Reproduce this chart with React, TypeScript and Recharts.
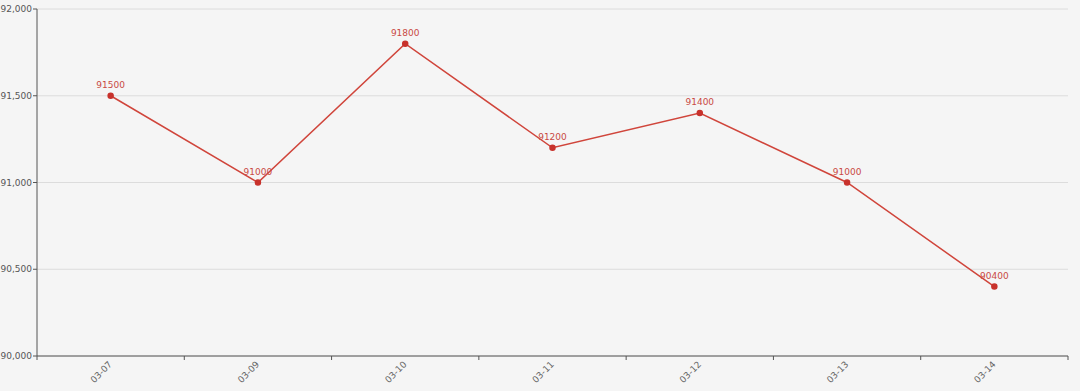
import { CartesianGrid, LabelList, Line, LineChart, XAxis, YAxis } from 'recharts'

const dates = ['03-07', '03-09', '03-10', '03-11', '03-12', '03-13', '03-14']
const prices = [91500, 91000, 91800, 91200, 91400, 91000, 90400]
const yTicks = [90000, 90500, 91000, 91500, 92000]

const chartData = dates.map((d, i) => ({ date: d, price: prices[i] }))

const W = 1080
const H = 391
const LEFT = 37
const RIGHT = 12
const band = (W - LEFT - RIGHT) / dates.length

const lineColor = '#d0453b'
const axisColor = '#555'

function DateTick(props: any) {
  const { x, y, payload, index } = props
  const isLast = index === dates.length - 1
  const tx = x + 2
  return (
    <g>
      <line x1={x - band / 2} y1={y - 8} x2={x - band / 2} y2={y - 4} stroke={axisColor} />
      {isLast && (
        <line x1={x + band / 2} y1={y - 8} x2={x + band / 2} y2={y - 4} stroke={axisColor} />
      )}
      <text
        x={tx}
        y={y + 1}
        textAnchor="end"
        fontSize={9}
        fill="#666"
        transform={`rotate(-45, ${tx}, ${y + 1})`}
      >
        {payload.value}
      </text>
    </g>
  )
}

export default function App() {
  return (
    <div style={{ position: 'absolute', left: 0, top: 0, width: W, height: H, background: '#f5f5f5', fontFamily: 'DejaVu Sans, sans-serif' }}>
      <LineChart width={W} height={H} data={chartData} margin={{ top: 9, right: RIGHT, left: 0, bottom: 0 }}>
        <CartesianGrid vertical={false} stroke="#dcdcdc" />
        <XAxis
          dataKey="date"
          height={35}
          padding={{ left: band / 2, right: band / 2 }}
          tickLine={false}
          axisLine={{ stroke: axisColor }}
          tick={<DateTick />}
          interval={0}
        />
        <YAxis
          width={LEFT}
          domain={[90000, 92000]}
          ticks={yTicks}
          tickFormatter={(v: number) => v.toLocaleString('en-US')}
          tick={{ fontSize: 9, fill: '#555' }}
          tickSize={4}
          tickMargin={1}
          tickLine={{ stroke: axisColor }}
          axisLine={{ stroke: axisColor }}
        />
        <Line
          type="linear"
          dataKey="price"
          stroke={lineColor}
          strokeWidth={1.5}
          dot={{ r: 2.5, fill: '#c8322c', stroke: '#c8322c' }}
          isAnimationActive={false}
        >
          <LabelList dataKey="price" position="top" offset={8} fontSize={9} fill="#c94a44" />
        </Line>
      </LineChart>
    </div>
  )
}
